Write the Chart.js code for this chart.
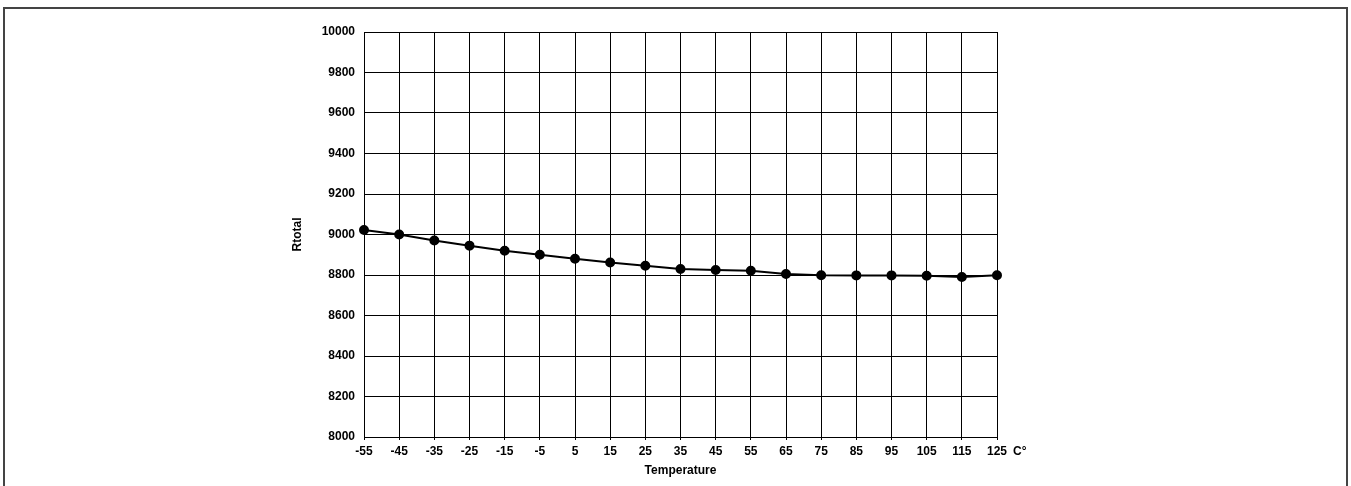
<!DOCTYPE html>
<html>
<head>
<meta charset="utf-8">
<script src="https://cdn.jsdelivr.net/npm/chart.js@4"></script>
<style>
html,body{margin:0;padding:0;background:#fff;}
#wrap{position:relative;width:1351px;height:486px;overflow:hidden;}
#frame{position:absolute;left:3px;top:7px;width:1345px;height:600px;border:2px solid #444;border-bottom:none;box-sizing:border-box;}
canvas{position:absolute;left:0;top:0;}
</style>
</head>
<body>
<div id="wrap">
<div id="frame"></div>
<canvas id="c" width="1351" height="486"></canvas>
</div>
<script>
const temperatures = [-55,-45,-35,-25,-15,-5,5,15,25,35,45,55,65,75,85,95,105,115,125];
const rtotal = [9022,9000,8970,8945,8920,8900,8880,8862,8846,8830,8825,8821,8805,8799,8798,8798,8796,8790,8799];
const yMin = 8000, yMax = 10000, yStep = 200;
const xTitle = 'Temperature';
const yTitle = 'Rtotal';
const unitLabel = 'C°';

const font = {family: 'Liberation Sans, Arial, sans-serif', size: 12, weight: 'bold'};

const unitPlugin = {
  id: 'unit',
  afterDraw(chart) {
    const ctx = chart.ctx;
    const xs = chart.scales.x;
    const lastX = xs.getPixelForValue(temperatures.length - 1);
    ctx.save();
    ctx.font = 'bold 12px Liberation Sans, Arial, sans-serif';
    ctx.fillStyle = '#000';
    ctx.textBaseline = 'middle';
    ctx.textAlign = 'left';
    ctx.fillText(unitLabel, lastX + 16, chart.chartArea.bottom + 15);
    ctx.restore();
  }
};

new Chart(document.getElementById('c'), {
  type: 'line',
  data: {
    labels: temperatures.map(String),
    datasets: [{
      data: rtotal,
      borderColor: '#000',
      backgroundColor: '#000',
      borderWidth: 2,
      pointRadius: 4,
      pointBackgroundColor: '#000',
      pointBorderColor: '#000',
      tension: 0
    }]
  },
  options: {
    responsive: false,
    animation: false,
    devicePixelRatio: 1,
    layout: {padding: {left: 290, right: 354, top: 32, bottom: 8}},
    plugins: {legend: {display: false}, tooltip: {enabled: false}},
    scales: {
      x: {
        offset: false,
        grid: {color: '#000', lineWidth: 1, offset: false, tickLength: 3, drawTicks: true},
        border: {color: '#000', width: 1},
        ticks: {color: '#000', font: font, padding: 4, maxRotation: 0, autoSkip: false},
        title: {display: true, text: xTitle, color: '#000', font: font, padding: {top: 2, bottom: 0}},
        afterFit(s) { s.height = 41; }
      },
      y: {
        min: yMin, max: yMax,
        grid: {color: '#000', lineWidth: 1, drawTicks: false},
        border: {color: '#000', width: 1},
        ticks: {stepSize: yStep, color: '#000', font: font, padding: 9, callback: v => String(v)},
        title: {display: true, text: yTitle, color: '#000', font: font, padding: {top: 0, bottom: 0}},
        afterFit(s) { s.width = 74; }
      }
    }
  },
  plugins: [unitPlugin]
});
</script>
</body>
</html>
